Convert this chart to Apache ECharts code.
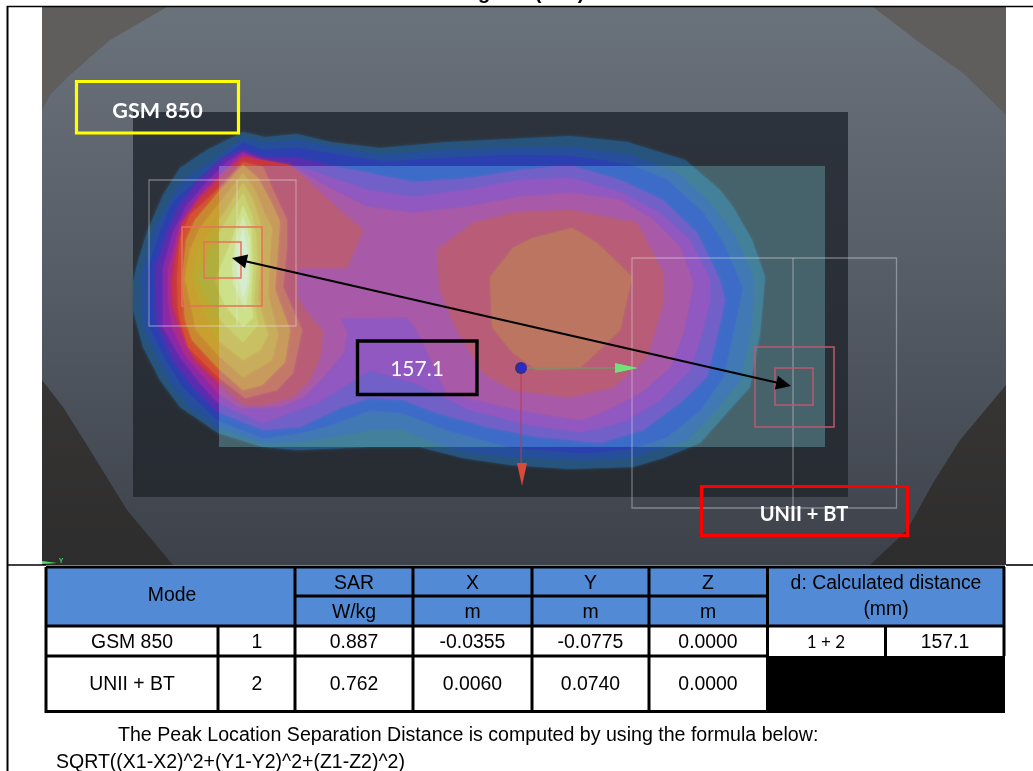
<!DOCTYPE html>
<html><head><meta charset="utf-8">
<style>html,body{margin:0;padding:0;background:#fff}#c{width:1033px;height:771px}</style>
<script src="https://cdn.jsdelivr.net/npm/echarts@6/dist/echarts.min.js"></script>
</head><body><div id="c"></div>
<script>
// ---- table content
const modes = ['GSM 850', 'UNII + BT'];
const pointIds = ['1', '2'];
const sarValues = ['0.887', '0.762'];
const xValues = ['-0.0355', '0.0060'];
const yValues = ['-0.0775', '0.0740'];
const zValues = ['0.0000', '0.0000'];
const distancePair = '1 + 2';
const distanceValue = '157.1';
const noteLines = ['The Peak Location Separation Distance is computed by using the formula below:', 'SQRT((X1-X2)^2+(Y1-Y2)^2+(Z1-Z2)^2)'];

// ---- SAR contour bands (outermost first)
const band0 = [[243,132],[265,137],[297,134],[330,142],[380,148],[447,142],[510,139],[570,136],[627,142],[685,160],[720,190],[733,207],[752,240],[765,277],[763,300],[760,333],[750,387],[723,417],[700,443],[663,458],[633,467],[570,469],[510,465],[463,458],[420,447],[370,447],[297,450],[263,447],[218,433],[180,407],[160,380],[143,347],[133,310],[133,282],[137,265],[147,232],[163,195],[180,168],[207,150]];
const band1 = [[243,138],[263,143],[297,140],[340,148],[380,155],[447,150],[510,148],[570,147],[630,155],[677,173],[707,200],[733,233],[753,277],[753,300],[750,333],[740,380],[713,413],[687,440],[633,457],[600,460],[580,460],[510,457],[470,453],[437,443],[403,430],[370,430],[330,437],[297,442],[263,443],[218,428],[193,410],[173,387],[157,357],[143,327],[141,277],[153,232],[167,205],[183,180],[210,162]];
const band2 = [[243,143],[263,150],[297,148],[340,155],[385,162],[450,158],[510,155],[570,156],[630,165],[667,180],[703,213],[723,243],[742,287],[740,300],[733,333],[723,377],[700,410],[667,437],[633,448],[600,452],[580,453],[510,447],[447,430],[403,413],[370,410],[330,425],[300,433],[263,438],[218,420],[207,410],[183,387],[165,358],[150,327],[148,268],[162,228],[173,202],[217,163]];
const band3 = [[243,150],[263,157],[297,158],[333,166],[413,182],[470,178],[520,170],[570,165],[620,180],[663,200],[697,233],[720,280],[725,300],[718,333],[707,377],[680,403],[643,430],[600,443],[537,437],[487,427],[437,413],[403,400],[370,398],[340,408],[300,427],[263,430],[218,412],[193,387],[173,360],[157,323],[155,268],[167,232],[180,205],[197,182],[223,158]];
const band4 = [[243,152],[262,160],[280,165],[300,167],[367,190],[413,197],[467,190],[520,180],[570,178],[620,192],[660,213],[690,240],[710,280],[710,300],[702,333],[690,370],[660,400],[627,420],[600,428],[580,432],[530,425],[470,410],[420,385],[370,370],[317,403],[263,423],[218,403],[200,383],[180,357],[163,327],[163,268],[173,232],[187,205],[207,182],[227,162]];
const band5 = [[243,154],[262,161],[290,166],[333,190],[367,207],[413,213],[467,207],[520,197],[570,193],[620,200],[653,220],[680,247],[693,283],[690,300],[683,333],[670,367],[640,393],[600,413],[580,420],[520,410],[447,393],[417,330],[407,317],[340,318],[347,333],[343,353],[323,377],[303,397],[280,407],[240,408],[218,393],[185,355],[172,327],[168,300],[168,270],[180,225],[200,195],[225,170]];
const band6Left = [[243,157],[262,160],[290,165],[337,208],[363,230],[347,268],[298,268],[297,295],[303,307],[323,332],[320,357],[310,380],[293,397],[263,405],[245,405],[237,400],[218,382],[195,360],[182,333],[173,307],[172,282],[175,258],[183,222],[197,202],[220,178]];
const band6Center = [[437,250],[473,223],[513,213],[570,210],[637,223],[663,273],[663,303],[647,357],[613,387],[570,397],[513,390],[483,373],[457,330],[440,290]];
const band7Center = [[572,228],[597,243],[632,277],[620,330],[580,368],[537,370],[513,353],[492,327],[490,277],[513,248],[533,238]];
const lobeA = [[243,162],[263,167],[273,190],[287,220],[287,247],[283,287],[302,330],[293,373],[277,390],[245,398],[218,377],[188,347],[180,320],[178,307],[177,278],[180,238],[190,215],[220,187]];
const lobeB = [[243,165],[258,178],[270,200],[280,222],[278,250],[275,290],[290,330],[285,362],[262,385],[243,390],[218,368],[192,340],[185,320],[182,280],[186,240],[195,220],[220,190]];
const lobeC = [[243,173],[255,190],[265,215],[272,228],[270,255],[268,295],[278,335],[272,360],[243,377],[218,355],[196,330],[190,300],[185,278],[190,250],[200,228],[222,200]];
const lobeD = [[243,183],[252,198],[260,222],[262,245],[260,270],[258,300],[268,335],[260,350],[243,360],[218,340],[205,315],[195,290],[192,275],[198,250],[208,235],[225,212]];
const lobeE = [[243,193],[252,215],[256,235],[257,260],[254,300],[258,325],[243,342],[222,322],[205,295],[198,278],[205,262],[222,228]];
const lobeF = [[243,205],[251,225],[253,265],[251,300],[253,318],[243,327],[225,305],[215,282],[220,268],[232,240]];
const lobeG = [[243,215],[250,240],[250,280],[245,310],[234,285],[232,268],[236,240]];
const lobeH = [[243,228],[248,255],[247,285],[243,298],[238,275],[238,250]];

const contourShapes = [band0,band1,band2,band3,band4,band5,band6Left,band6Center,band7Center,lobeA,lobeB,lobeC,lobeD,lobeE,lobeF,lobeG,lobeH];
const coloursOutside = ['#27547c','#254f9b','#2c3fb0','#5a2cae','#8a28a8','#ac2a8a','#c83540','#c83540','#c87050','#d45030','#c88830','#c8a030','#bfa830','#b0ae3c','#b8b84a','#c4cc70','#c8d890'];
const coloursInside = ['#43809a','#4179b5','#3d6cc8','#7060c8','#9058c0','#a85aa8','#b85c78','#b85c78','#bc7560','#c4786a','#c89a5c','#c8ae5c','#c8c062','#c8d070','#cde08a','#d2e8b0','#d6ecd0'];

// ---- phantom / background shapes
const cornerTL = [[42,7],[167,7],[110,40],[70,75],[50,95],[42,110]];
const cornerTR = [[873,7],[1006,7],[1006,115],[963,73],[920,43]];
const cornerBL = [[42,380],[63,407],[90,450],[127,510],[173,565],[42,565]];
const cornerBR = [[1006,385],[960,440],[933,483],[907,530],[870,565],[1006,565]];

const ln = (a,b,c,d)=>[a,b,c,d];
const tableLines = [ln(46,567,1005,567),ln(295,596,768,596),ln(46,626,1005,626),ln(46,656,768,656),ln(46,711.5,1005,711.5),
  ln(46,567,46,713),ln(218,626,218,713),ln(295,567,295,713),ln(413,567,413,713),ln(532,567,532,713),ln(649,567,649,713),ln(767.5,567,767.5,713),ln(885.5,626,885.5,656),ln(1004,567,1004,656)];

const P = {type:'value',show:false};
function poly(api,pts,style){return {type:'polygon',shape:{points:pts.map(p=>api.coord(p))},style};}
function soft(api,pts,fill){return {type:'polygon',shape:{points:pts.map(p=>api.coord(p))},style:{fill,shadowBlur:3,shadowColor:fill}};}
function line(api,s,stroke,w){const a=api.coord([s[0],s[1]]),b=api.coord([s[2],s[3]]);return {type:'line',shape:{x1:a[0],y1:a[1],x2:b[0],y2:b[1]},style:{stroke,lineWidth:w,fill:null}};}
function rect(api,x0,y0,x1,y1,style){const a=api.coord([x0,y0]),b=api.coord([x1,y1]);return {type:'rect',shape:{x:a[0],y:a[1],width:b[0]-a[0],height:b[1]-a[1]},style};}
function txt(api,x,y,text,font,fill,align){const a=api.coord([x,y]);return {type:'text',x:a[0],y:a[1],style:{text,font,fill:fill||'#000',align:align||'center',verticalAlign:'middle'}};}
function arrowHead(api,tip,from,len,half,fill){const dx=from[0]-tip[0],dy=from[1]-tip[1],L=Math.hypot(dx,dy),ux=dx/L,uy=dy/L;
  return poly(api,[tip,[tip[0]+ux*len-uy*half,tip[1]+uy*len+ux*half],[tip[0]+ux*len+uy*half,tip[1]+uy*len-ux*half]],{fill});}
const many=(n,fn,g,extra)=>Object.assign({type:'custom',coordinateSystem:'cartesian2d',xAxisIndex:g,yAxisIndex:g,silent:true,animation:false,
  data:Array.from({length:n},(_,i)=>[i]),renderItem:(p,api)=>fn(p.dataIndex,api)},extra||{});

const ARIAL='"Liberation Sans",Arial,sans-serif', CAL='Lato,"Open Sans",sans-serif';
const gradBg={type:'linear',x:0,y:0,x2:0,y2:1,colorStops:[{offset:0,color:'#6a727b'},{offset:.5,color:'#565c65'},{offset:1,color:'#3c414a'}]};
const gradDark={type:'linear',x:0,y:0,x2:0,y2:1,colorStops:[{offset:0,color:'#2d333c'},{offset:1,color:'#272c33'}]};
const gradCorner={type:'linear',x:0,y:0,x2:0,y2:1,colorStops:[{offset:0,color:'#363534'},{offset:1,color:'#2e2d2d'}]};

const option={backgroundColor:'#fff',animation:false,
 grid:[{left:0,top:0,width:1033,height:771,containLabel:false},{left:219,top:166,width:606,height:281}],
 xAxis:[{...P,gridIndex:0,min:0,max:1033},{...P,gridIndex:1,min:219,max:825}],
 yAxis:[{...P,gridIndex:0,min:0,max:771,inverse:true},{...P,gridIndex:1,min:166,max:447,inverse:true}],
 series:[
  many(1,(i,api)=>({type:'group',children:[
    rect(api,42,7,1006,565,{fill:gradBg}),
    poly(api,cornerTL,{fill:'#5f5e5d'}),poly(api,cornerTR,{fill:'#5f5e5d'}),
    poly(api,cornerBL,{fill:gradCorner}),poly(api,cornerBR,{fill:gradCorner}),
    rect(api,133,112,848,497,{fill:gradDark})]}),0),
  many(contourShapes.length,(i,api)=>soft(api,contourShapes[i],coloursOutside[i]),0),
  many(1,(i,api)=>rect(api,219,166,825,447,{fill:'#46626a'}),1),
  many(contourShapes.length,(i,api)=>soft(api,contourShapes[i],coloursInside[i]),1,{clip:true}),
  many(1,(i,api)=>{const w='rgba(235,235,240,.38)',s=1.3,ol=(a,b,c,d,col,lw)=>rect(api,a,b,c,d,{fill:null,stroke:col,lineWidth:lw});
    const tipL=[232,258],tipR=[791,386];
    return {type:'group',children:[
    ol(149,180,296,326,w,s),line(api,[237,180,237,326],w,s),
    ol(632,258,896.5,508,w,s),line(api,[793,258,793,508],w,s),
    ol(182,227,262,306,'#e8705a',1.5),ol(204,242,241,278,'#e8705a',1.5),
    ol(755,347,834,427,'#bd5a70',1.5),ol(775,368,813,405,'#bd5a70',1.5),
    line(api,[521,373,521,464],'#b83a55',1),
    poly(api,[[517,463],[527,463],[522,486]],{fill:'#d84a3a'}),
    line(api,[527,368,617,368],'#7f8f68',1.6),
    poly(api,[[615,363],[638,368],[615,373]],{fill:'#6fe27a'}),
    {type:'circle',shape:{cx:api.coord([521,368])[0],cy:api.coord([521,368])[1],r:6},style:{fill:'#32327a'}},
    {type:'circle',shape:{cx:api.coord([522,368])[0],cy:api.coord([522,368])[1],r:4},style:{fill:'#2a2ad0'}},
    poly(api,[[42,561],[57,563],[42,564]],{fill:'#58e070'}),
    txt(api,61,561.5,'Y','bold 7px '+ARIAL,'#40d050'),
    line(api,[240,260,783,384],'#000',2),
    arrowHead(api,tipL,tipR,15,7,'#000'),arrowHead(api,tipR,tipL,15,7,'#000'),
    ol(76.5,81.5,238.5,133,'#ffff00',3.2),
    ol(701.5,486.5,907.5,535.5,'#ff0000',3.2),
    ol(357.5,341,477,394.5,'#000',3.4),
    txt(api,157.5,111,modes[0],'bold 21.5px '+CAL,'#fff'),
    txt(api,804,515,modes[1],'bold 20px '+CAL,'#fff'),
    txt(api,417,369,distanceValue,'21px '+CAL,'#fff')
    ]};},0),
  many(1,(i,api)=>{const ch=[
    rect(api,46,568,1004,626,{fill:'#528ad5'}),
    rect(api,767,656,1005,712.5,{fill:'#000'}),
    line(api,[7,6.5,1033,6.5],'#000',1.6),line(api,[7.5,6,7.5,771],'#000',2),
    line(api,[7,565,46,565],'#000',1.6),line(api,[1006,565,1033,565],'#000',1.6)];
    tableLines.forEach(s=>ch.push(line(api,s,'#000',3)));
    const cx=[[354,'SAR','W/kg'],[472.5,'X','m'],[590.5,'Y','m'],[708,'Z','m']];
    const f='19.4px '+ARIAL;
    ch.push(txt(api,172,596,'Mode',f));
    cx.forEach(c=>{ch.push(txt(api,c[0],584,c[1],f));ch.push(txt(api,c[0],613,c[2],f));});
    ch.push(txt(api,886,584,'d: Calculated distance',f));ch.push(txt(api,886,610,'(mm)',f));
    [0,1].forEach(r=>{const y=[643,685][r];
      ch.push(txt(api,132,y,modes[r],f));ch.push(txt(api,257,y,pointIds[r],f));
      ch.push(txt(api,354,y,sarValues[r],f));ch.push(txt(api,472.5,y,xValues[r],f));
      ch.push(txt(api,590.5,y,yValues[r],f));ch.push(txt(api,708,y,zValues[r],f));});
    ch.push(txt(api,826,643,distancePair,'17px '+CAL));ch.push(txt(api,945,643,distanceValue,f));
    ch.push(txt(api,118,736,noteLines[0],'19.6px '+ARIAL,'#000','left'));
    ch.push(txt(api,56,763,noteLines[1],'19.5px '+ARIAL,'#000','left'));
    ch.push(txt(api,484,-7,'g','bold 20px '+ARIAL));ch.push(txt(api,538,-7,'(','bold 20px '+ARIAL));ch.push(txt(api,581,-7,')','bold 20px '+ARIAL));
    return {type:'group',children:ch};},0)
 ]};
const chart=echarts.init(document.getElementById('c'),null,{renderer:'canvas'});
chart.setOption(option);
</script></body></html>
